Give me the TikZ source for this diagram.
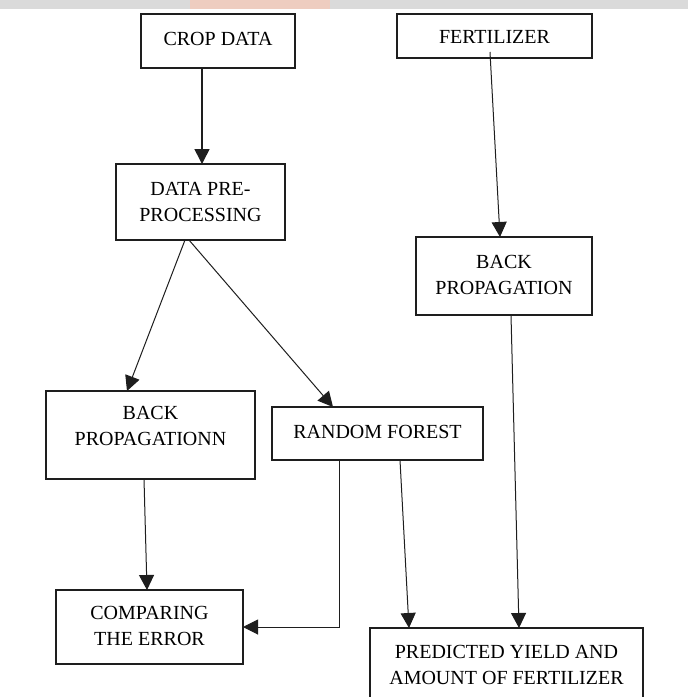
\documentclass[tikz,border=0pt]{standalone}
\usepackage{fontspec}
\setmainfont{Liberation Serif}
\usetikzlibrary{arrows.meta}
\definecolor{bandgrey}{RGB}{218,218,218}
\definecolor{bandpink}{RGB}{238,205,192}
\definecolor{edge}{RGB}{30,30,30}
\tikzset{
  boxst/.style={draw=edge, line width=2.5pt, fill=white, inner sep=0pt, outer sep=0pt},
  txt/.style={font=\fontsize{20}{26}\selectfont, align=center, inner sep=0pt, text=black},
  conn/.style={draw=edge, line width=1pt, -{Triangle[width=15pt,length=15pt]}},
}
\begin{document}
\begin{tikzpicture}[x=1pt,y=-1pt]
\useasboundingbox (0,0) rectangle (688,697);
\clip (0,0) rectangle (688,697);
\fill[white] (0,0) rectangle (688,697);
% faint watermark band at top
\fill[bandgrey] (0,0) rectangle (688,9);
\fill[bandpink] (190,0) rectangle (330,9);
% boxes
\node[boxst, minimum width=154pt, minimum height=54pt] (crop) at (218,41) {};
\node[boxst, minimum width=195pt, minimum height=44pt] (fert) at (494.5,36) {};
\node[boxst, minimum width=169pt, minimum height=76pt] (pre) at (200.5,202) {};
\node[boxst, minimum width=176pt, minimum height=78pt] (bpr) at (504,276) {};
\node[boxst, minimum width=209pt, minimum height=88pt] (bpl) at (150.5,435) {};
\node[boxst, minimum width=211pt, minimum height=53pt] (rf) at (377.5,433.5) {};
\node[boxst, minimum width=187pt, minimum height=74pt] (cmp) at (149.5,627) {};
\node[boxst, minimum width=273pt, minimum height=92pt] (pred) at (506.5,674) {};
% texts
\node[txt] (tcrop) at (218,39) {CROP DATA};
\node[txt] (tfert) at (494.5,37) {FERTILIZER};
\node[txt] (tpre) at (200.5,201.5) {DATA PRE-\\PROCESSING};
\node[txt] (tbpr) at (504,274.5) {BACK\\PROPAGATION};
\node[txt] (tbpl) at (150.5,426) {BACK\\PROPAGATIONN};
\node[txt] (trf) at (377.5,432) {RANDOM FOREST};
\node[txt] (tcmp) at (149.5,626) {COMPARING\\THE ERROR};
\node[txt] (tpred) at (506.5,665) {PREDICTED YIELD AND\\AMOUNT OF FERTILIZER};
% connectors
\draw[conn, line width=1.6pt] ([xshift=-16pt]crop.south) -- ([xshift=1.5pt]pre.north);
\draw[conn] ([xshift=-4.5pt,yshift=6pt]fert.south) -- ([xshift=-4pt]bpr.north);
\draw[conn] ([xshift=-15.5pt]pre.south) -- ([xshift=-23.5pt]bpl.north);
\draw[conn] ([xshift=-11.5pt]pre.south) -- ([xshift=-44.5pt]rf.north);
\draw[conn] ([xshift=7pt]bpr.south) -- ([xshift=12.5pt]pred.north);
\draw[conn] ([xshift=-6.5pt]bpl.south) -- ([xshift=-2.5pt]cmp.north);
\draw[conn] ([xshift=-38.5pt]rf.south) |- (cmp.east);
\draw[conn] ([xshift=22.5pt]rf.south) -- ([xshift=-97.5pt]pred.north);
\end{tikzpicture}
\end{document}
